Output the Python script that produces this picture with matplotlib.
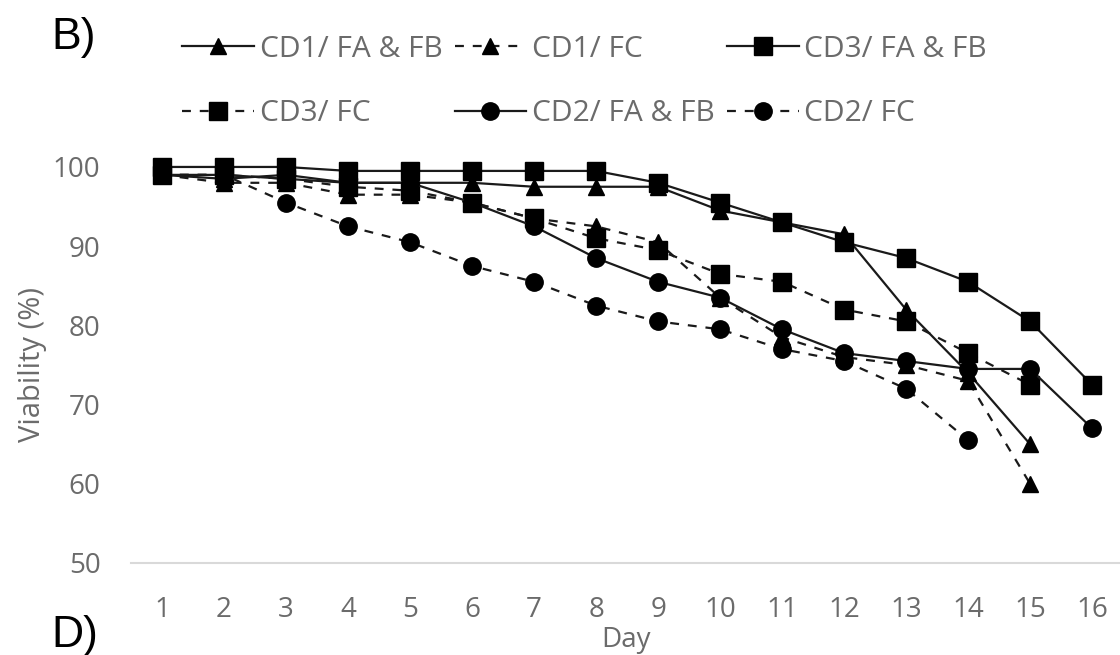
import numpy as np
import matplotlib
matplotlib.use("Agg")
import matplotlib.pyplot as plt

# viability (%) per day
days = list(range(1, 17))
cd1_fafb = [99, 98.5, 99, 98, 98, 98, 97.5, 97.5, 97.5, 94.5, 93, 91.5, 82, 74, 65]
cd1_fc = [99, 98, 98, 96.5, 96.5, 95.5, 93.5, 92.5, 90.5, 83.5, 78.5, 76, 75, 73, 60]
cd3_fafb = [100, 100, 100, 99.5, 99.5, 99.5, 99.5, 99.5, 98, 95.5, 93, 90.5, 88.5, 85.5, 80.5, 72.5]
cd3_fc = [99, 99, 98.5, 97.5, 97, 95.5, 93.5, 91, 89.5, 86.5, 85.5, 82, 80.5, 76.5, 72.5]
cd2_fafb = [99, 99, 98.5, 98, 98, 95.5, 92.5, 88.5, 85.5, 83.5, 79.5, 76.5, 75.5, 74.5, 74.5, 67]
cd2_fc = [99, 99, 95.5, 92.5, 90.5, 87.5, 85.5, 82.5, 80.5, 79.5, 77, 75.5, 72, 65.5]

labels = ["CD1/ FA & FB", "CD1/ FC", "CD3/ FA & FB", "CD3/ FC", "CD2/ FA & FB", "CD2/ FC"]
series = [cd1_fafb, cd1_fc, cd3_fafb, cd3_fc, cd2_fafb, cd2_fc]
markers = ["^", "^", "s", "s", "o", "o"]
dashed = (0, (4, 4))
styles = ["-", dashed, "-", dashed, "-", dashed]

GRAY = "#6b6b6b"
FONT = "Open Sans"

fig = plt.figure(figsize=(11.2, 6.55), dpi=100)
ax = fig.add_axes([0.117, 0.1405, 0.883, 0.6046])

handles = []
for vals, lab, mk, ls in zip(series, labels, markers, styles):
    ms = 12 if mk == "^" else 12.5
    ln, = ax.plot(days[:len(vals)], vals, linestyle=ls, color="#1a1a1a", lw=1.6,
                  marker=mk, markersize=ms, markerfacecolor="black",
                  markeredgecolor="black", clip_on=False, label=lab)
    handles.append(ln)

ax.set_xlim(0.5, 16.45)
ax.set_ylim(50, 100)
ax.set_xticks(days)
ax.set_yticks(range(50, 101, 10))
for s in ["top", "right", "left"]:
    ax.spines[s].set_visible(False)
ax.spines["bottom"].set_color("#d9d9d9")
ax.spines["bottom"].set_linewidth(1.5)
ax.tick_params(axis="both", length=0, labelsize=20, labelcolor=GRAY)
ax.tick_params(axis="y", pad=22)
ax.tick_params(axis="x", pad=24)
for t in ax.get_xticklabels() + ax.get_yticklabels():
    t.set_fontfamily(FONT)

ax.set_xlabel("Day", fontsize=20, color=GRAY, family=FONT, labelpad=1)
ax.set_ylabel("Viability (%)", fontsize=21, color=GRAY, family=FONT, labelpad=4)

# legend rows are filled column-wise by matplotlib, so reorder
order = [0, 3, 1, 4, 2, 5]
leg = fig.legend([handles[i] for i in order], [labels[i] for i in order],
                 ncol=3, loc="upper left", bbox_to_anchor=(0.144, 0.979),
                 frameon=False, prop={"family": FONT, "size": 21.5},
                 handlelength=2.4, handletextpad=0.2, columnspacing=0.4,
                 labelspacing=1.2, borderpad=0.2)
for t in leg.get_texts():
    t.set_color(GRAY)

fig.text(0.046, 0.942, "B)", fontsize=32, family="Liberation Sans", va="center", ha="left")
fig.text(0.046, 0.03, "D)", fontsize=32, family="Liberation Sans", va="center", ha="left")

fig.savefig("out.png", dpi=100, facecolor="white")
